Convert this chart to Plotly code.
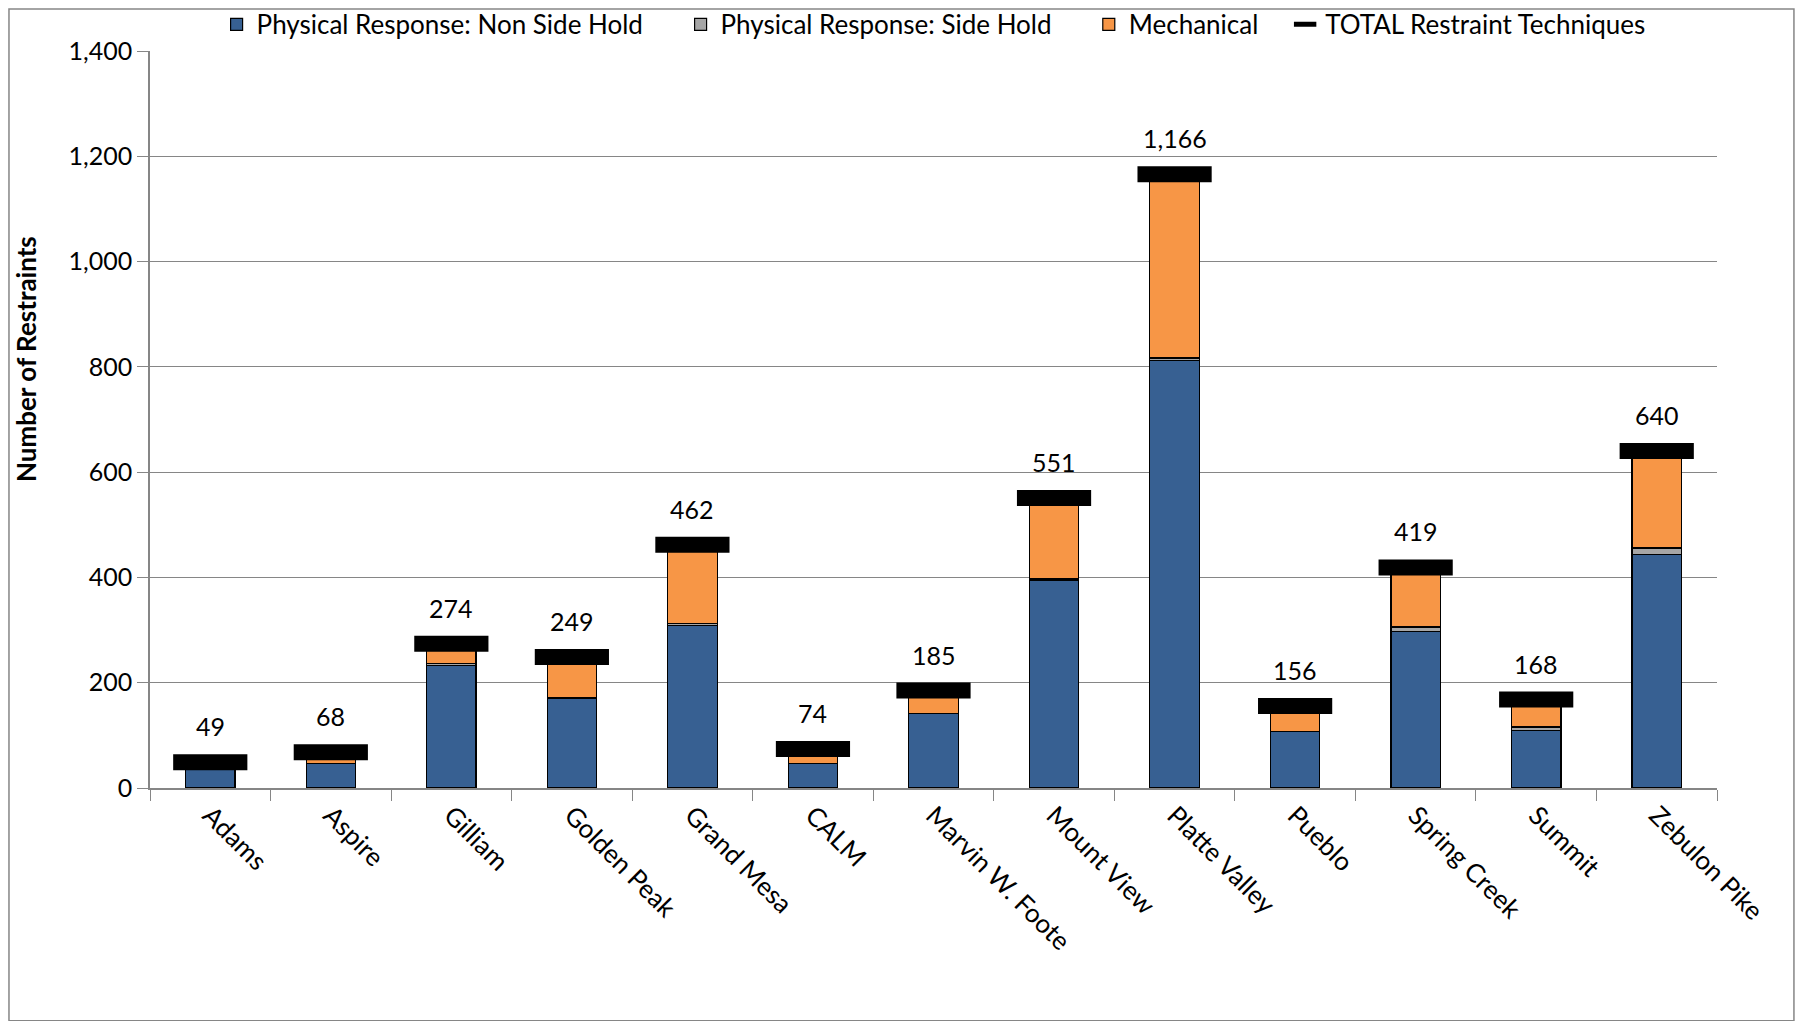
import plotly.graph_objects as go

categories = ["Adams", "Aspire", "Gilliam", "Golden Peak", "Grand Mesa", "CALM",
              "Marvin W. Foote", "Mount View", "Platte Valley", "Pueblo",
              "Spring Creek", "Summit", "Zebulon Pike"]
non_side_hold = [36, 46, 233, 170, 308, 46, 142, 395, 812, 107, 297, 109, 443]
side_hold = [0, 0, 4, 2, 4, 0, 0, 2, 5, 0, 9, 7, 13]
mechanical = [13, 22, 37, 77, 150, 28, 43, 154, 349, 49, 113, 52, 184]
totals = [49, 68, 274, 249, 462, 74, 185, 551, 1166, 156, 419, 168, 640]
total_labels = [f"{v:,}" for v in totals]
y_ticks = [0, 200, 400, 600, 800, 1000, 1200, 1400]

FONT = "Lato, 'Open Sans', sans-serif"
BAR_LINE = dict(color="black", width=1.2)

fig = go.Figure()
fig.add_trace(go.Bar(x=categories, y=non_side_hold, name="Physical Response: Non Side Hold",
                     marker=dict(color="#376092", line=BAR_LINE), legend="legend",
                     showlegend=True))
fig.add_trace(go.Bar(x=categories, y=side_hold, name="Physical Response: Side Hold",
                     marker=dict(color="#A6A6A6", line=BAR_LINE), legend="legend2",
                     showlegend=True))
fig.add_trace(go.Bar(x=categories, y=mechanical, name="Mechanical",
                     marker=dict(color="#F79646", line=BAR_LINE), legend="legend3",
                     showlegend=True))
fig.add_trace(go.Scatter(x=categories, y=totals, name="TOTAL Restraint Techniques",
                         mode="markers", legend="legend4", showlegend=True,
                         marker=dict(symbol="line-ew", size=53, color="black",
                                     line=dict(color="black", width=16))))

for c, v, t in zip(categories, totals, total_labels):
    fig.add_annotation(x=c, y=v, text=t, showarrow=False, yshift=36,
                       font=dict(family=FONT, size=25, color="black"))

fig.add_annotation(xref="paper", yref="paper", x=-0.0792, y=0.5819,
                   text="<b>Number of Restraints</b>", textangle=-90, showarrow=False,
                   xanchor="center", yanchor="middle",
                   font=dict(family=FONT, size=26, color="black"))


def legend_at(x):
    return dict(orientation="h", x=x, xanchor="left", y=1.0361, yanchor="middle",
                font=dict(family=FONT, size=26), itemsizing="trace",
                itemwidth=30, bgcolor="rgba(0,0,0,0)", visible=True)


fig.update_layout(
    showlegend=True,
    barmode="stack",
    bargap=0.59,
    width=1787, height=1013,
    margin=dict(l=141.5, r=78, t=42.6, b=233.3, autoexpand=False),
    plot_bgcolor="white", paper_bgcolor="white",
    font=dict(family=FONT, size=25, color="black"),
    legend=legend_at(0.0425),
    legend2=legend_at(0.3386),
    legend3=legend_at(0.5991),
    legend4=legend_at(0.7244),
    shapes=[dict(type="rect", xref="paper", yref="paper",
                 x0=-0.09, x1=1.0491, y0=-0.3158, y1=1.0571,
                 line=dict(color="#868686", width=1.5), fillcolor="rgba(0,0,0,0)",
                 layer="below")],
)
fig.update_yaxes(range=[0, 1400], tickvals=y_ticks, tickformat=",",
                 showgrid=True, gridcolor="#868686", gridwidth=1,
                 showline=True, linecolor="#868686", linewidth=1.5,
                 ticks="outside", ticklen=11, tickcolor="#868686",
                 tickfont=dict(family=FONT, size=25),
                 zeroline=False)
fig.update_xaxes(range=[-0.5, len(categories) - 0.5],
                 showline=True, linecolor="#868686", linewidth=1.5,
                 ticks="outside", ticklen=11, tickcolor="#868686", tickson="boundaries",
                 tickangle=45, tickfont=dict(family=FONT, size=26))

fig.write_html("out.html")
